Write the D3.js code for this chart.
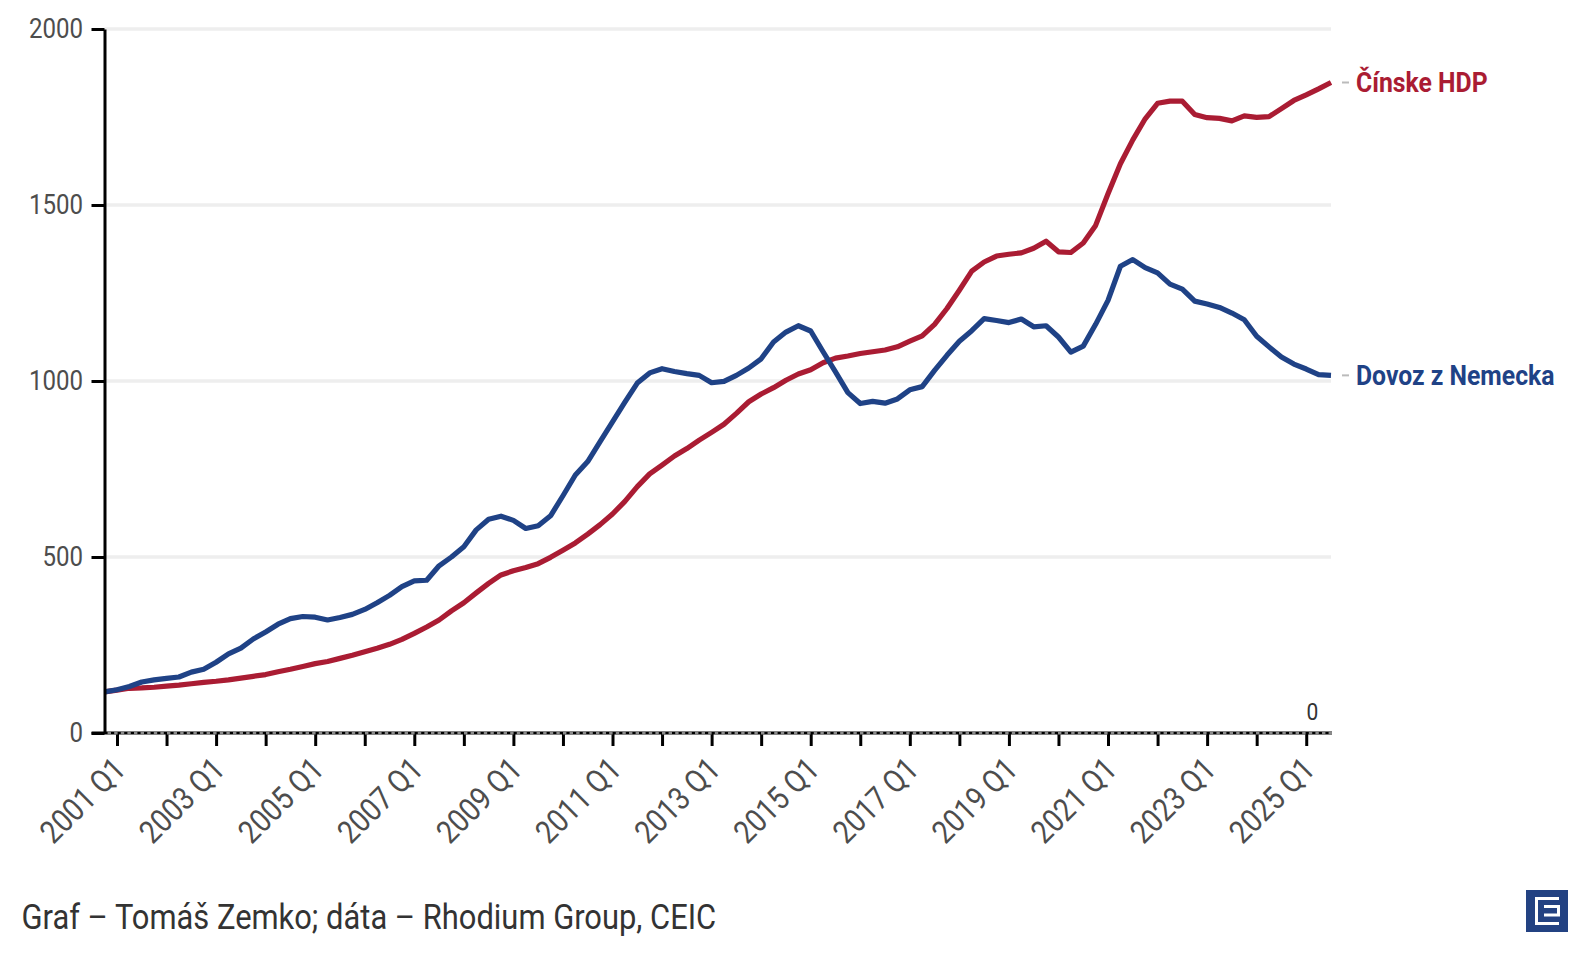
<!DOCTYPE html>
<html>
<head>
<meta charset="utf-8">
<title>Čínske HDP a dovoz z Nemecka</title>
<script src="https://cdn.jsdelivr.net/npm/d3@7"></script>
<style>
	html, body { margin: 0; padding: 0; background: #fff; }
	svg { display: block; }
	text { font-family: Roboto, sans-serif; }
</style>
</head>
<body>
<div class="canvas"></div>
<script>
const years = d3.range(2001, 2026);
// first point is 2000 Q4, last one 2025 Q3
const quarters = ["2000 Q4"]
	.concat(years.flatMap((y) => [1, 2, 3, 4].map((q) => `${y} Q${q}`)))
	.slice(0, 100);
const tickQuarters = years.map((y) => `${y} Q1`);
const yTicks = [0, 500, 1000, 1500, 2000];

const chinaGdp = [
	117, 122, 127, 128, 130, 133, 136, 140, 144, 147,
	151, 156, 161, 166, 174, 181, 189, 197, 203, 212,
	221, 231, 241, 252, 266, 283, 301, 321, 347, 370,
	398, 425, 449, 461, 470, 481, 499, 519, 540, 565,
	592, 622, 658, 700, 736, 761, 787, 808, 832, 854,
	877, 908, 941, 963, 981, 1002, 1020, 1032, 1052, 1065,
	1071, 1078, 1083, 1088, 1097, 1113, 1128, 1161, 1206, 1258,
	1312, 1338, 1355, 1360, 1364, 1377, 1397, 1367, 1365, 1392,
	1442, 1532, 1617, 1685, 1745, 1789, 1795, 1795, 1757, 1748,
	1746, 1739, 1753, 1749, 1751, 1774, 1797, 1813, 1830, 1848,
];
const germanImports = [
	117, 123, 132, 145, 151, 155, 159, 173, 181, 201,
	225, 241, 267, 287, 309, 325, 331, 329, 321, 328,
	337, 351, 370, 391, 416, 432, 434, 475, 500, 529,
	577, 607, 616, 604, 581, 589, 617, 674, 733, 771,
	828, 884, 940, 994, 1023, 1035, 1027, 1021, 1016, 995,
	999, 1016, 1037, 1063, 1111, 1139, 1157, 1142, 1083, 1026,
	967, 936, 942, 937, 949, 975, 984, 1030, 1073, 1113,
	1143, 1177, 1172, 1166, 1176, 1154, 1157, 1125, 1082, 1099,
	1161, 1229, 1326, 1345, 1322, 1307, 1275, 1261, 1227, 1219,
	1209, 1193, 1174, 1127, 1097, 1068, 1048, 1034, 1018, 1016,
];
const seriesNames = ["Čínske HDP", "Dovoz z Nemecka"];
const seriesColors = ["#aa1c33", "#1f4286"];
const seriesValues = [chinaGdp, germanImports];

const dimensions = { width: 1588, height: 960 };
const margin = { left: 104.6, right: 1331, top: 29, bottom: 733 };
const narrow = 0.875;

const x = d3.scalePoint().domain(quarters).range([margin.left, margin.right]);
const y = d3.scaleLinear().domain([0, 2000]).range([margin.bottom, margin.top]);

const svg = d3
	.select(".canvas")
	.append("svg")
	.attr("width", dimensions.width)
	.attr("height", dimensions.height);

// no condensed Roboto installed, so squeeze the regular cut
const condense = (sel, k = narrow) =>
	sel.each(function () {
		this.setAttribute("textLength", this.getComputedTextLength() * k);
		this.setAttribute("lengthAdjust", "spacingAndGlyphs");
	});

// grid
svg
	.append("g")
	.selectAll("line")
	.data(yTicks.filter((d) => d > 0))
	.join("line")
	.attr("x1", margin.left)
	.attr("x2", margin.right)
	.attr("y1", (d) => y(d))
	.attr("y2", (d) => y(d))
	.attr("stroke", "#eeeeee")
	.attr("stroke-width", 3.5);

// lines
const line = d3
	.line()
	.x((d, i) => x(quarters[i]))
	.y((d) => y(d));
svg
	.append("g")
	.selectAll("path")
	.data(seriesValues)
	.join("path")
	.attr("d", line)
	.attr("fill", "none")
	.attr("stroke", (d, i) => seriesColors[i])
	.attr("stroke-width", 5.2)
	.attr("stroke-linejoin", "round");

// y axis
const yAxis = svg
	.append("g")
	.attr("transform", `translate(${margin.left - 0.1},0)`)
	.call(
		d3
			.axisLeft(y)
			.tickValues(yTicks)
			.tickSize(13)
			.tickSizeOuter(0)
			.tickPadding(8.5)
			.tickFormat(d3.format("d"))
	);
yAxis.select(".domain").attr("stroke", "#000").attr("stroke-width", 3);
yAxis.selectAll(".tick line").attr("stroke", "#000").attr("stroke-width", 3);
yAxis
	.selectAll("text")
	.attr("font-size", 27.5)
	.attr("fill", "#4d4d4d")
	.call(condense);

// x axis
const xAxis = svg
	.append("g")
	.attr("transform", `translate(0,${margin.bottom})`)
	.call(
		d3
			.axisBottom(x)
			.tickValues(tickQuarters)
			.tickSize(13)
			.tickSizeOuter(0)
			.tickFormat((d) => (+d.slice(0, 4) % 2 ? d : ""))
	);
xAxis.select(".domain").remove();
xAxis.selectAll(".tick line").attr("stroke", "#000").attr("stroke-width", 3);
xAxis
	.selectAll("text")
	.attr("font-size", 32)
	.attr("fill", "#4d4d4d")
	.attr("text-anchor", "end")
	.attr("dy", 0)
	.attr("y", 0)
	.attr("transform", "translate(10,38) rotate(-45)")
	.call(condense);

// zero line, black with grey dashes on top
svg
	.append("line")
	.attr("x1", margin.left - 13)
	.attr("x2", margin.right + 1)
	.attr("y1", y(0))
	.attr("y2", y(0))
	.attr("stroke", "#000")
	.attr("stroke-width", 3.2);
svg
	.append("line")
	.attr("x1", margin.left + 3)
	.attr("x2", margin.right + 1)
	.attr("y1", y(0))
	.attr("y2", y(0))
	.attr("stroke", "#8a8a8a")
	.attr("stroke-width", 3.2)
	.attr("stroke-dasharray", "3.4 3.2");
svg
	.append("text")
	.attr("x", x("2025 Q1") + 12)
	.attr("y", y(0) - 13)
	.attr("text-anchor", "end")
	.attr("font-size", 24)
	.attr("fill", "#333")
	.text("0")
	.call(condense);

// labels at the line ends
const ends = svg
	.append("g")
	.selectAll("g")
	.data(seriesValues)
	.join("g")
	.attr("transform", (d) => `translate(${margin.right},${y(d[d.length - 1])})`);
ends
	.append("line")
	.attr("x1", 11)
	.attr("x2", 18)
	.attr("stroke", "#bbbbbb")
	.attr("stroke-width", 2);
ends
	.append("text")
	.attr("x", 25)
	.attr("y", 9.5)
	.attr("font-size", 28.3)
	.attr("font-weight", 700)
	.attr("fill", (d, i) => seriesColors[i])
	.text((d, i) => seriesNames[i])
	.call(condense);

// source
svg
	.append("text")
	.attr("x", 21.5)
	.attr("y", 928.5)
	.attr("font-size", 35.3)
	.attr("fill", "#333")
	.text("Graf – Tomáš Zemko; dáta – Rhodium Group, CEIC")
	.call(condense);

// logo
const logo = svg.append("g").attr("transform", "translate(1526,890)");
logo.append("rect").attr("width", 42).attr("height", 42).attr("fill", "#234282");
logo
	.append("path")
	.attr("d", "M33 8.5H10.5V33.5H33M18 16.5H32.5V25H18")
	.attr("fill", "none")
	.attr("stroke", "#fff")
	.attr("stroke-width", 3);
</script>
</body>
</html>
